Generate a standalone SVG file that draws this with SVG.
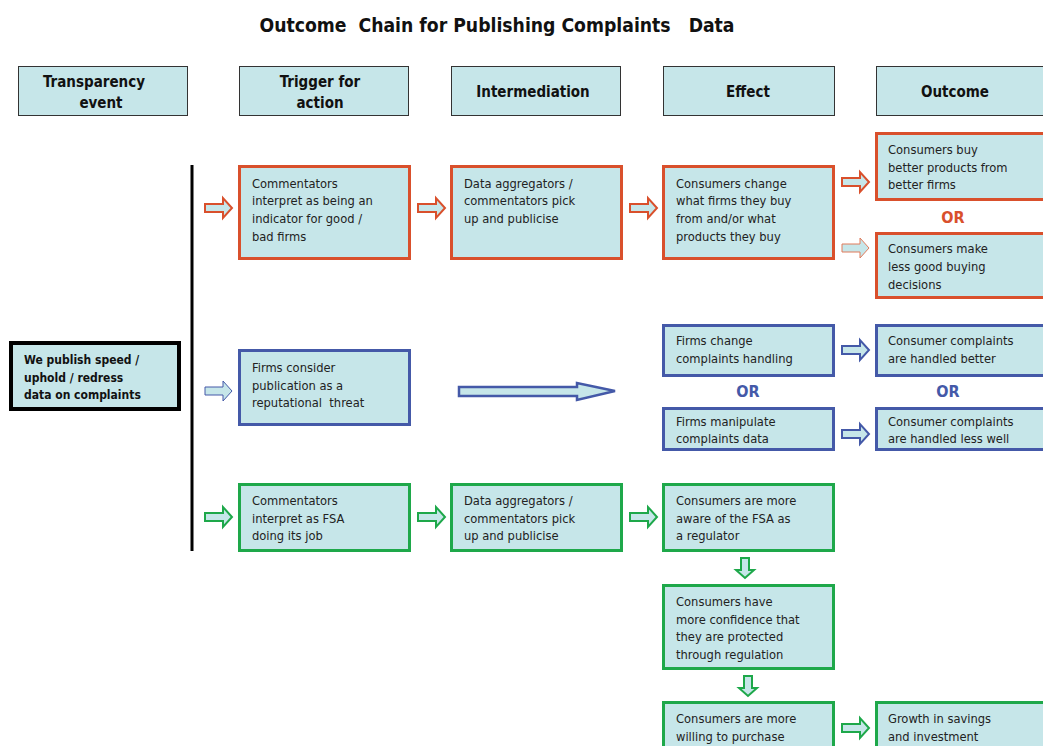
<svg xmlns="http://www.w3.org/2000/svg" width="1043" height="746" viewBox="0 0 1043 746">
<defs>
<style>
.hdr{fill:#c6e6e9;stroke:#333;stroke-width:1}
.ht{font-family:"DejaVu Sans Condensed","DejaVu Sans",sans-serif;font-stretch:condensed;font-weight:bold;font-size:15px;fill:#111;text-anchor:middle}
.box{fill:#c6e6e9;stroke-width:3}
.red{stroke:#d9502c}
.blue{stroke:#4459a8}
.green{stroke:#1ea84a}
.t{font-family:"DejaVu Sans Condensed","DejaVu Sans",sans-serif;font-stretch:condensed;font-size:12.8px;fill:#222}
.or{font-family:"DejaVu Sans Condensed","DejaVu Sans",sans-serif;font-stretch:condensed;font-weight:bold;font-size:16px;text-anchor:middle}
.arr{fill:#c6e6e9;stroke-width:2}
</style>
<path id="ra" d="M0,-4 H18 V-10 L27,0 L18,10 V4 H0 Z"/>
<path id="da" d="M-4,0 V12 H-9 L0,20 L9,12 H4 V0 Z"/>
</defs>
<text x="497" y="32" font-family="DejaVu Sans Condensed,DejaVu Sans,sans-serif" font-stretch="condensed" font-weight="bold" font-size="19.2" text-anchor="middle" fill="#111" xml:space="preserve">Outcome  Chain for Publishing Complaints   Data</text>

<g id="headers">
<g id="h1"><rect class="hdr" x="18.5" y="66.5" width="169" height="49"/><text class="ht" x="94" y="87">Transparency</text><text class="ht" x="101" y="108">event</text></g>
<g id="h2"><rect class="hdr" x="239.5" y="66.5" width="169" height="49"/><text class="ht" x="320" y="87">Trigger for</text><text class="ht" x="320" y="108">action</text></g>
<g id="h3"><rect class="hdr" x="451.5" y="66.5" width="169" height="49"/><text class="ht" x="533" y="97">Intermediation</text></g>
<g id="h4"><rect class="hdr" x="663.5" y="66.5" width="171" height="49"/><text class="ht" x="748" y="97">Effect</text></g>
<g id="h5"><rect class="hdr" x="876.5" y="66.5" width="170" height="49"/><text class="ht" x="955" y="97">Outcome</text></g>
</g>

<g id="source"><rect x="11" y="343" width="168" height="66" fill="#c6e6e9" stroke="#000" stroke-width="4"/>
<text font-family="DejaVu Sans Condensed,DejaVu Sans,sans-serif" font-stretch="condensed" font-weight="bold" font-size="12px" fill="#111"><tspan x="24" y="364">We publish speed /</tspan><tspan x="24" y="382">uphold / redress</tspan><tspan x="24" y="399">data on complaints</tspan></text></g>

<g id="red-trigger"><rect class="box red" x="239.5" y="166.5" width="170" height="92"/><text class="t"><tspan x="252" y="188">Commentators</tspan><tspan x="252" y="205">interpret as being an</tspan><tspan x="252" y="223">indicator for good /</tspan><tspan x="252" y="241">bad firms</tspan></text></g>
<g id="red-inter"><rect class="box red" x="451.5" y="166.5" width="170" height="92"/><text class="t"><tspan x="464" y="188">Data aggregators /</tspan><tspan x="464" y="205">commentators pick</tspan><tspan x="464" y="223">up and publicise</tspan></text></g>
<g id="red-effect"><rect class="box red" x="663.5" y="166.5" width="170" height="92"/><text class="t"><tspan x="676" y="188">Consumers change</tspan><tspan x="676" y="205">what firms they buy</tspan><tspan x="676" y="223">from and/or what</tspan><tspan x="676" y="241">products they buy</tspan></text></g>
<g id="red-out1"><rect class="box red" x="876.5" y="133.5" width="170" height="66"/><text class="t"><tspan x="888" y="154">Consumers buy</tspan><tspan x="888" y="172">better products from</tspan><tspan x="888" y="189">better firms</tspan></text></g>
<text class="or" x="953" y="223" fill="#d9502c">OR</text>
<g id="red-out2"><rect class="box red" x="876.5" y="233.5" width="170" height="64"/><text class="t"><tspan x="888" y="253">Consumers make</tspan><tspan x="888" y="271">less good buying</tspan><tspan x="888" y="289">decisions</tspan></text></g>

<g id="blue-trigger"><rect class="box blue" x="239.5" y="350.5" width="170" height="74"/><text class="t"><tspan x="252" y="372">Firms consider</tspan><tspan x="252" y="390">publication as a</tspan><tspan x="252" y="407" xml:space="preserve">reputational  threat</tspan></text></g>
<g id="blue-eff1"><rect class="box blue" x="663.5" y="325.5" width="170" height="50"/><text class="t"><tspan x="676" y="345">Firms change</tspan><tspan x="676" y="363">complaints handling</tspan></text></g>
<text class="or" x="748" y="397" fill="#4459a8">OR</text>
<g id="blue-eff2"><rect class="box blue" x="663.5" y="408.5" width="170" height="41"/><text class="t"><tspan x="676" y="426">Firms manipulate</tspan><tspan x="676" y="443">complaints data</tspan></text></g>
<g id="blue-out1"><rect class="box blue" x="876.5" y="325.5" width="170" height="50"/><text class="t"><tspan x="888" y="345">Consumer complaints</tspan><tspan x="888" y="363">are handled better</tspan></text></g>
<text class="or" x="948" y="397" fill="#4459a8">OR</text>
<g id="blue-out2"><rect class="box blue" x="876.5" y="408.5" width="170" height="41"/><text class="t"><tspan x="888" y="426">Consumer complaints</tspan><tspan x="888" y="443">are handled less well</tspan></text></g>

<g id="green-trigger"><rect class="box green" x="239.5" y="484.5" width="170" height="66"/><text class="t"><tspan x="252" y="505">Commentators</tspan><tspan x="252" y="523">interpret as FSA</tspan><tspan x="252" y="540">doing its job</tspan></text></g>
<g id="green-inter"><rect class="box green" x="451.5" y="484.5" width="170" height="66"/><text class="t"><tspan x="464" y="505">Data aggregators /</tspan><tspan x="464" y="523">commentators pick</tspan><tspan x="464" y="540">up and publicise</tspan></text></g>
<g id="green-eff1"><rect class="box green" x="663.5" y="484.5" width="170" height="66"/><text class="t"><tspan x="676" y="505">Consumers are more</tspan><tspan x="676" y="523">aware of the FSA as</tspan><tspan x="676" y="540">a regulator</tspan></text></g>
<g id="green-eff2"><rect class="box green" x="663.5" y="585.5" width="170" height="83"/><text class="t"><tspan x="676" y="606">Consumers have</tspan><tspan x="676" y="624">more confidence that</tspan><tspan x="676" y="641">they are protected</tspan><tspan x="676" y="659">through regulation</tspan></text></g>
<g id="green-eff3"><rect class="box green" x="663.5" y="702.5" width="170" height="60"/><text class="t"><tspan x="676" y="723">Consumers are more</tspan><tspan x="676" y="741">willing to purchase</tspan></text></g>
<g id="green-out"><rect class="box green" x="876.5" y="702.5" width="170" height="60"/><text class="t"><tspan x="888" y="723">Growth in savings</tspan><tspan x="888" y="741">and investment</tspan></text></g>

<g id="connectors">
<line x1="192" y1="165" x2="192" y2="551" stroke="#000" stroke-width="3"/>
<use href="#ra" x="205" y="208" class="arr" stroke="#d9502c"/>
<use href="#ra" x="418" y="208" class="arr" stroke="#d9502c"/>
<use href="#ra" x="630" y="208" class="arr" stroke="#d9502c"/>
<use href="#ra" x="842" y="182" class="arr" stroke="#d9502c"/>
<use href="#ra" x="842" y="248" fill="#c6e6e9" stroke="#e07a5a" stroke-width="1"/>
<use href="#ra" x="205" y="391" fill="#c6e6e9" stroke="#4459a8" stroke-width="1"/>
<path d="M459,387 H577 V383 L615,391 L577,400 V396 H459 Z" fill="#c6e6e9" stroke="#4459a8" stroke-width="2.5"/>
<use href="#ra" x="842" y="350" class="arr" stroke="#4459a8"/>
<use href="#ra" x="842" y="434" class="arr" stroke="#4459a8"/>
<use href="#ra" x="205" y="517" class="arr" stroke="#1ea84a"/>
<use href="#ra" x="418" y="517" class="arr" stroke="#1ea84a"/>
<use href="#ra" x="630" y="517" class="arr" stroke="#1ea84a"/>
<use href="#da" x="745" y="558" class="arr" stroke="#1ea84a"/>
<use href="#da" x="748" y="676" class="arr" stroke="#1ea84a"/>
<use href="#ra" x="842" y="728" class="arr" stroke="#1ea84a"/>
</g>
</svg>
